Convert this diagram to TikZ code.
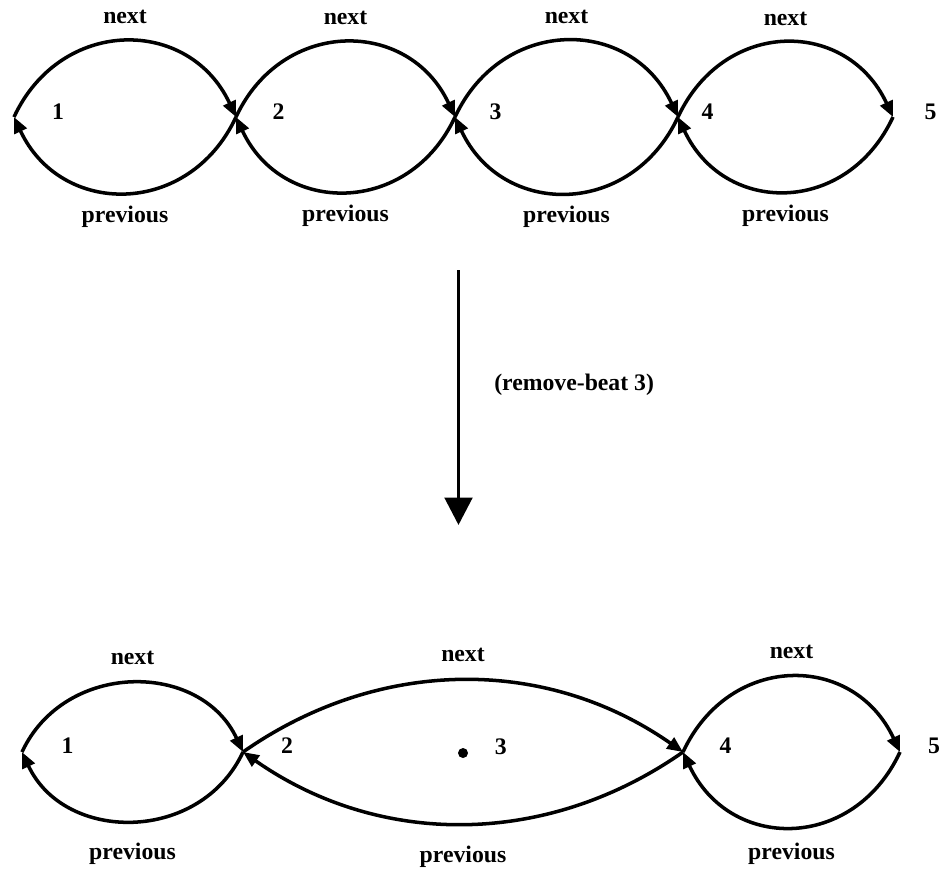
\documentclass[tikz,border=0pt]{standalone}
\usepackage{fontspec}
\setmainfont{Liberation Serif}
\usepackage{tikz}
\usetikzlibrary{arrows.meta, positioning}

\begin{document}
\begin{tikzpicture}[
    lbl/.style={font=\fontsize{13.5}{16}\selectfont\bfseries},
    num/.style={lbl, inner sep=1pt},
    dot/.style={circle, fill=black, inner sep=0pt, minimum size=0.2cm},
    link/.style={line width=2pt, -{Triangle[length=9pt, width=7.5pt]}},
    nextarc/.style={link, out=65, in=115, looseness=#1},
    prevarc/.style={link, out=-115, in=-65, looseness=#1},
    bigarrow/.style={line width=2.2pt, -{Triangle[length=0.55cm, width=0.55cm]}}
]
    \useasboundingbox (0,0) rectangle (18.86,-17.54);

    % list before the call
    \coordinate (a1) at (0.28,-2.34);
    \coordinate (a2) at (4.72,-2.34);
    \coordinate (a3) at (9.10,-2.34);
    \coordinate (a4) at (13.56,-2.34);
    \coordinate (a5) at (17.86,-2.34);
    \node[num, right=0.72cm of a1, yshift=0.1cm] (na1) {1};
    \node[num, right=0.69cm of a2, yshift=0.1cm] (na2) {2};
    \node[num, right=0.65cm of a3, yshift=0.1cm] (na3) {3};
    \node[num, right=0.43cm of a4, yshift=0.1cm] (na4) {4};
    \node[num, right=0.59cm of a5, yshift=0.1cm] (na5) {5};
    \draw[nextarc=1.28] (a1) to node[lbl, above=0.2cm] (nxa1) {next} (a2);
    \draw[nextarc=1.28] (a2) to node[lbl, above=0.2cm] (nxa2) {next} (a3);
    \draw[nextarc=1.28] (a3) to node[lbl, above=0.2cm] (nxa3) {next} (a4);
    \draw[nextarc=1.30] (a4) to node[lbl, above=0.2cm] (nxa4) {next} (a5);
    \draw[prevarc=1.28] (a2) to node[lbl, below=0.12cm] (pva1) {previous} (a1);
    \draw[prevarc=1.28] (a3) to node[lbl, below=0.12cm] (pva2) {previous} (a2);
    \draw[prevarc=1.28] (a4) to node[lbl, below=0.12cm] (pva3) {previous} (a3);
    \draw[prevarc=1.30] (a5) to node[lbl, below=0.12cm] (pva4) {previous} (a4);

    % the call
    \coordinate (top) at (9.17,-5.4);
    \coordinate (bot) at (9.17,-10.5);
    \draw[bigarrow] (top) -- node[lbl, pos=0.45, right=0.56cm] (call) {(remove-beat 3)} (bot);

    % list after the call
    \coordinate (b1) at (0.44,-15.04);
    \coordinate (b2) at (4.86,-15.04);
    \node[dot] (b3) at (9.26,-15.06) {};
    \coordinate (b4) at (13.66,-15.04);
    \coordinate (b5) at (18.00,-15.04);
    \node[num, right=0.75cm of b1, yshift=0.12cm] (nb1) {1};
    \node[num, right=0.72cm of b2, yshift=0.12cm] (nb2) {2};
    \node[num, right=0.49cm of b3, yshift=0.12cm] (nb3) {3};
    \node[num, right=0.69cm of b4, yshift=0.12cm] (nb4) {4};
    \node[num, right=0.52cm of b5, yshift=0.12cm] (nb5) {5};
    \draw[nextarc=1.17] (b1) to node[lbl, above=0.22cm] (nxb1) {next} (b2);
    \draw[link, out=35, in=145, looseness=0.97] (b2) to node[lbl, above=0.22cm] (nxb2) {next} (b4);
    \draw[nextarc=1.30] (b4) to node[lbl, above=0.22cm] (nxb3) {next} (b5);
    \draw[prevarc=1.17] (b2) to node[lbl, below=0.3cm] (pvb1) {previous} (b1);
    \draw[link, out=-145, in=-35, looseness=0.97] (b4) to node[lbl, below=0.3cm] (pvb2) {previous} (b2);
    \draw[prevarc=1.30] (b5) to node[lbl, below=0.18cm] (pvb3) {previous} (b4);
\end{tikzpicture}
\end{document}
